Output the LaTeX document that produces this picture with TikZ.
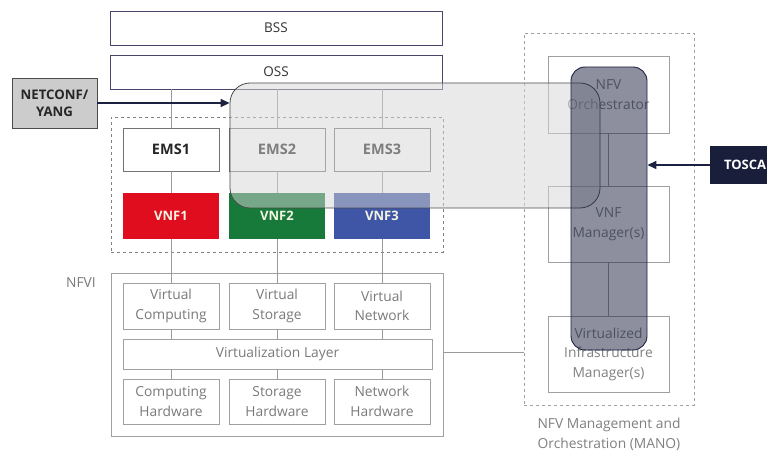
\documentclass[tikz,border=0pt]{standalone}
\usepackage{fontspec}
\setmainfont{Open Sans}
\usetikzlibrary{arrows.meta}
\definecolor{navy}{HTML}{1C2140}
\definecolor{vred}{HTML}{E00D1E}
\definecolor{vgreen}{HTML}{17793A}
\definecolor{vblue}{HTML}{3F55A6}
\definecolor{txtgray}{HTML}{7A7A7A}
\definecolor{boxgray}{HTML}{A0A0A0}
\definecolor{cream}{HTML}{F4F4E2}
\tikzset{
  bx/.style={draw=#1, inner sep=0pt, align=center, line width=0.8pt},
  bx/.default=boxgray,
  ilab/.style={font=\fontsize{13.8}{19.5}\selectfont, text=txtgray},
  conn/.style={draw=gray!80, line width=0.7pt},
  arr/.style={draw=navy, line width=1.5pt, -{Triangle[length=9pt,width=8pt]}},
  vnf/.style={inner sep=0pt, minimum width=96pt, minimum height=46pt, font=\fontsize{13}{15}\selectfont\bfseries, text=cream},
  ems/.style={bx=gray!90!black, minimum width=96pt, minimum height=43pt, font=\fontsize{14.5}{16}\selectfont\bfseries, text=black!85},
  top/.style={bx=gray!80!blue!70!black, minimum width=332pt, minimum height=34pt, font=\fontsize{13.5}{15}\selectfont, text=black!80},
}
\begin{document}
\begin{tikzpicture}[x=1pt,y=-1pt]
\clip (0,0) rectangle (767,454);
\fill[white] (0,0) rectangle (767,454);
% top boxes
\node[top] (BSS) at (276,28) {BSS};
\node[top] (OSS) at (276,72) {OSS};
% VNF group
\node[draw=gray, dashed, line width=0.8pt, minimum width=332pt, minimum height=135pt, inner sep=0pt] (VG) at (277,184.5) {};
\node[ems] (EMS1) at (171,149.5) {EMS1};
\node[ems] (EMS2) at (277,149.5) {EMS2};
\node[ems] (EMS3) at (382,149.5) {EMS3};
\node[vnf, fill=vred] (VNF1) at (171,216) {VNF1};
\node[vnf, fill=vgreen] (VNF2) at (277,216) {VNF2};
\node[vnf, fill=vblue] (VNF3) at (382,216) {VNF3};
% NFVI
\node[bx, minimum width=332pt, minimum height=163pt] (NFVI) at (277,354.5) {};
\node[font=\fontsize{13.8}{15}\selectfont, text=txtgray, anchor=center] (NFVIlab) at (81,283) {NFVI};
\node[bx, ilab, minimum width=96pt, minimum height=46pt] (VC) at (171,306) {Virtual\\Computing};
\node[bx, ilab, minimum width=96pt, minimum height=46pt] (VS) at (277,306) {Virtual\\Storage};
\node[bx, ilab, minimum width=96pt, minimum height=46pt] (VN) at (382,306) {Virtual\\Network};
\node[bx, ilab, minimum width=309pt, minimum height=30pt] (VL) at (277.5,354) {Virtualization Layer};
\node[bx, ilab, minimum width=96pt, minimum height=45pt] (CH) at (171,401.5) {Computing\\Hardware};
\node[bx, ilab, minimum width=96pt, minimum height=45pt] (SH) at (277,401.5) {Storage\\Hardware};
\node[bx, ilab, minimum width=96pt, minimum height=45pt] (NH) at (382,401.5) {Network\\Hardware};
% MANO
\node[draw=boxgray, dashed, line width=0.8pt, minimum width=170pt, minimum height=372pt, inner sep=0pt] (MANO) at (609,219) {};
\node[bx, ilab, text=gray, minimum width=121pt, minimum height=77pt] (NFVO) at (608.5,94.5) {NFV\\Orchestrator};
\node[bx, ilab, text=gray, minimum width=121pt, minimum height=76pt] (VNFM) at (608.5,224) {VNF\\Manager(s)};
\node[bx, ilab, text=gray, minimum width=121pt, minimum height=76pt] (VIM) at (608.5,354) {Virtualized\\Infrastructure\\Manager(s)};
\node[ilab, text=gray, align=center] (MANOlab) at (609,434.5) {NFV Management and\\Orchestration (MANO)};
% connectors
\foreach \e/\v in {EMS1/VNF1,EMS2/VNF2,EMS3/VNF3}{
  \draw[conn] (\e.north |- OSS.south) -- (\e.north);
  \draw[conn] (\e.south) -- (\v.north);
}
\draw[conn] (VNF1.south) -- (VC.north);
\draw[conn] (VNF2.south) -- (VS.north);
\draw[conn] (VNF3.south) -- (VN.north);
\draw[conn] (VC.south) -- (VC.south |- VL.north);
\draw[conn] (VS.south) -- (VS.south |- VL.north);
\draw[conn] (VN.south) -- (VN.south |- VL.north);
\draw[conn] (CH.north |- VL.south) -- (CH.north);
\draw[conn] (SH.north |- VL.south) -- (SH.north);
\draw[conn] (NH.north |- VL.south) -- (NH.north);
\coordinate (lk) at (443,352);
\draw[conn] (lk) -- (lk -| MANO.west);
\draw[conn] (NFVO.south) -- (VNFM.north);
\draw[conn] (VNFM.south) -- (VIM.north);
% overlays
\node[draw=black!70, line width=0.8pt, fill=black!16, fill opacity=0.5, rounded corners=20pt, minimum width=370pt, minimum height=125pt, inner sep=0pt] (OV) at (415,145.5) {};
\node[draw=navy, line width=0.9pt, fill=navy, fill opacity=0.5, rounded corners=14pt, minimum width=76pt, minimum height=283pt, inner sep=0pt] (VR) at (609,208.5) {};
% external boxes
\node[draw=black!70, line width=0.9pt, fill=black!20, inner sep=0pt, minimum width=85pt, minimum height=50pt, align=center, font=\fontsize{13.2}{17}\selectfont\bfseries, text=black!85] (NC) at (54.5,103) {NETCONF/\\YANG};
\node[fill=navy!90!black, inner sep=0pt, minimum width=70pt, minimum height=38pt, font=\fontsize{13}{15}\selectfont\bfseries, text=white] (TOSCA) at (745,165) {TOSCA};
\draw[arr] (NC.east) -- (NC.east -| OV.west);
\draw[arr] (TOSCA.west) -- (TOSCA.west -| VR.east);
\end{tikzpicture}
\end{document}
